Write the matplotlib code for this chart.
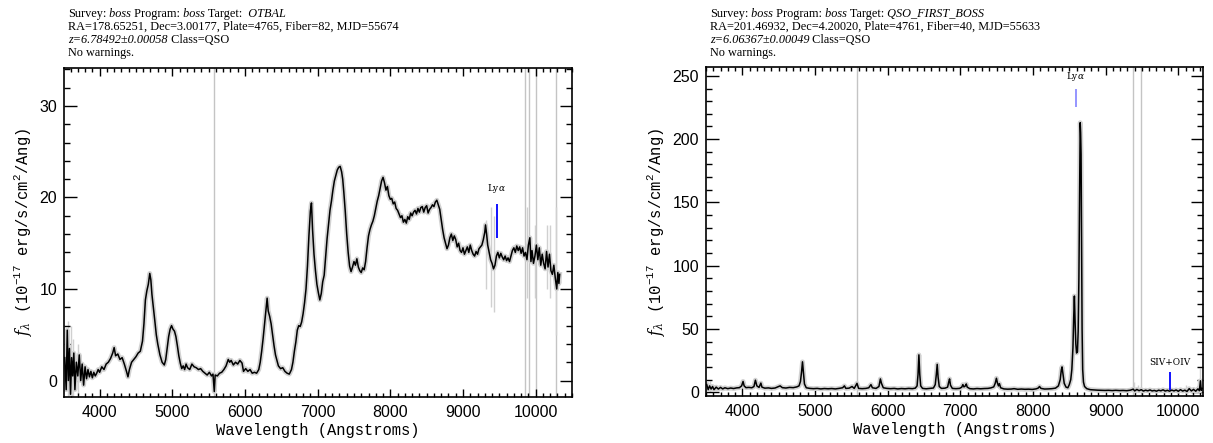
import matplotlib.pyplot as plt
from matplotlib.ticker import MultipleLocator
import numpy as np

plt.rcParams['mathtext.fontset'] = 'custom'
plt.rcParams['mathtext.rm'] = 'Liberation Mono'
plt.rcParams['mathtext.it'] = 'DejaVu Serif:italic'

# ---- left spectrum (z = 6.78, OTBAL) : wavelength, flux
spec_a = np.array([
    (3520, 2.5), (3540, -1.0), (3555, 5.5), (3570, 0.0), (3585, 3.5), (3600, -1.5),
    (3615, 2.5), (3630, 0.5), (3645, 3.0), (3660, -1.0), (3680, 2.0), (3700, 0.5),
    (3720, 2.8), (3740, 0.0), (3760, 1.8), (3780, -0.5), (3800, 1.5), (3820, 0.2),
    (3840, 1.2), (3860, 0.4), (3880, 1.0), (3900, 0.3), (3920, 0.9), (3940, 0.5),
    (3960, 0.8), (3980, 1.2), (4000, 0.9), (4030, 1.5), (4060, 1.2), (4090, 1.8),
    (4120, 2.0), (4150, 2.4), (4180, 3.0), (4200, 3.6), (4220, 2.7), (4250, 2.9),
    (4280, 2.3), (4310, 2.5), (4340, 1.8), (4370, 1.0), (4390, 0.4), (4410, 1.2),
    (4440, 2.0), (4470, 2.3), (4500, 2.6), (4530, 3.0), (4560, 3.2), (4590, 4.3),
    (4610, 6.2), (4630, 8.8), (4650, 9.8), (4670, 10.5), (4690, 11.7), (4705, 11.0),
    (4720, 9.4), (4740, 8.0), (4760, 6.5), (4780, 5.0), (4800, 4.0), (4830, 2.8),
    (4860, 2.0), (4890, 1.7), (4910, 2.3), (4930, 3.6), (4950, 4.8), (4970, 5.6),
    (4990, 6.0), (5010, 5.6), (5030, 5.4), (5050, 4.8), (5070, 3.8), (5090, 2.7),
    (5110, 1.9), (5130, 1.3), (5150, 1.6), (5170, 1.2), (5190, 1.8), (5210, 1.4),
    (5240, 1.2), (5270, 1.8), (5300, 1.5), (5330, 1.4), (5360, 1.2), (5390, 1.3),
    (5420, 1.0), (5450, 0.8), (5480, 0.6), (5510, 0.9), (5540, 0.5), (5560, 0.7),
    (5578, -1.2), (5590, 0.6), (5620, 0.5), (5650, 0.8), (5680, 0.9), (5710, 1.2),
    (5740, 1.6), (5770, 2.3), (5790, 2.0), (5810, 2.2), (5840, 1.7), (5870, 2.0),
    (5900, 1.8), (5930, 2.2), (5960, 1.9), (5980, 1.0), (6010, 1.3), (6040, 1.0),
    (6070, 1.2), (6100, 0.8), (6130, 0.9), (6160, 0.8), (6190, 1.2), (6210, 2.0),
    (6230, 3.2), (6250, 4.6), (6270, 6.2), (6290, 7.8), (6305, 9.0), (6320, 7.6),
    (6340, 7.0), (6360, 6.2), (6380, 5.0), (6400, 3.8), (6420, 2.8), (6440, 2.2),
    (6460, 1.6), (6490, 1.3), (6520, 1.4), (6550, 1.0), (6580, 0.8), (6610, 0.7),
    (6640, 1.2), (6660, 2.0), (6680, 3.2), (6700, 4.2), (6720, 5.5), (6740, 6.0),
    (6760, 5.9), (6780, 6.4), (6800, 7.3), (6820, 8.5), (6840, 10.0), (6860, 12.5),
    (6880, 15.8), (6900, 18.5), (6915, 19.4), (6930, 16.5), (6950, 13.8), (6970, 12.0),
    (6990, 10.5), (7010, 9.6), (7030, 8.8), (7050, 9.5), (7070, 10.8), (7090, 11.5),
    (7110, 13.5), (7130, 15.5), (7150, 17.0), (7170, 18.6), (7190, 19.6), (7210, 20.8),
    (7230, 21.8), (7250, 22.4), (7270, 23.0), (7290, 23.3), (7310, 23.4), (7330, 22.8),
    (7345, 22.0), (7360, 20.6), (7380, 18.5), (7400, 16.0), (7420, 14.0), (7440, 12.5),
    (7460, 11.9), (7480, 12.4), (7500, 13.0), (7520, 12.6), (7540, 13.3), (7560, 12.4),
    (7580, 12.0), (7600, 11.8), (7620, 12.3), (7640, 12.1), (7660, 13.0), (7680, 14.5),
    (7700, 15.8), (7720, 16.5), (7740, 17.0), (7760, 17.4), (7780, 18.0), (7800, 18.8),
    (7820, 19.6), (7840, 20.2), (7860, 21.0), (7880, 21.8), (7900, 22.2), (7920, 21.6),
    (7940, 20.8), (7960, 21.2), (7980, 20.2), (8000, 19.8), (8020, 19.9), (8040, 19.3),
    (8060, 19.5), (8080, 18.8), (8100, 18.6), (8120, 18.2), (8140, 17.8), (8160, 18.0),
    (8180, 17.3), (8200, 17.6), (8220, 17.2), (8240, 17.9), (8260, 17.6), (8280, 18.3),
    (8300, 18.0), (8320, 18.4), (8340, 18.6), (8360, 18.2), (8380, 18.8), (8400, 18.4),
    (8420, 18.9), (8440, 19.0), (8460, 18.4), (8480, 18.9), (8500, 19.1), (8520, 18.3),
    (8540, 18.7), (8560, 18.9), (8580, 19.2), (8600, 19.0), (8620, 19.5), (8640, 19.7),
    (8660, 19.2), (8680, 18.7), (8700, 17.6), (8720, 16.5), (8740, 15.6), (8760, 15.0),
    (8780, 14.4), (8800, 14.8), (8820, 15.6), (8840, 16.0), (8860, 15.3), (8880, 15.8),
    (8900, 15.4), (8920, 14.6), (8940, 15.0), (8960, 14.2), (8980, 14.0), (9000, 14.5),
    (9020, 13.8), (9040, 14.2), (9060, 14.6), (9080, 14.0), (9100, 14.8), (9120, 14.2),
    (9140, 13.8), (9160, 13.6), (9180, 14.1), (9200, 13.8), (9220, 14.4), (9240, 14.6),
    (9260, 14.8), (9280, 15.4), (9300, 16.2), (9310, 17.0), (9325, 16.0), (9340, 14.8),
    (9360, 14.0), (9380, 13.2), (9400, 12.8), (9420, 12.2), (9440, 12.6), (9460, 13.6),
    (9480, 14.0), (9500, 13.4), (9520, 13.9), (9540, 13.5), (9560, 13.2), (9580, 13.6),
    (9600, 13.1), (9620, 13.4), (9640, 13.0), (9660, 13.6), (9680, 14.2), (9700, 14.5),
    (9720, 14.0), (9740, 14.7), (9760, 14.2), (9780, 14.6), (9800, 13.9), (9820, 14.5),
    (9840, 13.6), (9860, 14.0), (9880, 13.2), (9900, 14.8), (9920, 15.6), (9935, 13.0),
    (9950, 14.2), (9970, 12.8), (9990, 13.6), (10010, 14.8), (10030, 13.2), (10050, 14.5),
    (10070, 12.6), (10090, 13.8), (10110, 12.8), (10130, 12.2), (10150, 14.1), (10170, 12.4),
    (10190, 13.8), (10210, 12.0), (10230, 11.6), (10250, 12.6), (10270, 11.2), (10290, 10.0),
    (10305, 11.8), (10320, 10.6), (10330, 11.6),
])

# ---- right spectrum (z = 6.06, QSO_FIRST_BOSS) : wavelength, flux
spec_b = np.array([
    (3510, 6.0), (3530, 2.0), (3550, 5.0), (3570, 2.5), (3590, 4.5), (3610, 2.0),
    (3640, 4.0), (3670, 2.5), (3700, 3.8), (3730, 2.6), (3760, 3.5), (3800, 2.8),
    (3840, 3.3), (3880, 2.9), (3920, 3.4), (3960, 3.6), (3990, 5.0), (4010, 8.5),
    (4025, 5.0), (4050, 3.6), (4090, 3.8), (4130, 3.5), (4160, 4.5), (4180, 9.5),
    (4200, 5.0), (4230, 3.8), (4255, 7.2), (4270, 4.0), (4310, 3.2), (4360, 3.4),
    (4400, 3.0), (4450, 3.3), (4500, 4.5), (4520, 5.0), (4550, 3.6), (4600, 3.3),
    (4650, 3.8), (4700, 3.6), (4750, 4.2), (4780, 5.0), (4800, 8.5), (4815, 16.0),
    (4828, 24.0), (4840, 16.0), (4855, 6.5), (4880, 3.5), (4930, 3.0), (4980, 2.8),
    (5030, 3.0), (5080, 2.6), (5130, 2.9), (5180, 2.7), (5230, 2.9), (5280, 2.6),
    (5330, 3.0), (5380, 3.5), (5405, 5.0), (5425, 3.0), (5470, 3.2), (5510, 4.5),
    (5540, 3.0), (5578, 7.0), (5600, 3.0), (5650, 2.8), (5700, 3.0), (5740, 3.5),
    (5770, 6.0), (5790, 3.5), (5840, 3.0), (5880, 4.5), (5900, 10.5), (5915, 7.0),
    (5940, 3.5), (5990, 3.0), (6040, 2.8), (6090, 3.0), (6140, 2.6), (6190, 2.9),
    (6240, 2.7), (6290, 3.0), (6340, 2.8), (6380, 3.2), (6405, 5.0), (6418, 14.0),
    (6430, 29.5), (6442, 14.0), (6455, 5.0), (6480, 3.0), (6530, 2.7), (6580, 3.0),
    (6630, 3.3), (6655, 6.0), (6670, 14.0), (6682, 22.0), (6694, 12.0), (6710, 4.5),
    (6740, 3.0), (6790, 3.2), (6825, 4.0), (6840, 8.0), (6852, 10.5), (6865, 5.5),
    (6890, 3.0), (6940, 2.8), (6990, 3.0), (7020, 4.0), (7035, 6.0), (7050, 4.2),
    (7070, 5.0), (7082, 6.5), (7095, 4.0), (7130, 2.8), (7180, 2.6), (7230, 2.9),
    (7280, 2.7), (7330, 2.9), (7380, 3.0), (7420, 3.4), (7460, 4.2), (7480, 7.0),
    (7497, 11.0), (7510, 7.5), (7525, 5.0), (7538, 6.8), (7555, 3.5), (7600, 2.6),
    (7650, 2.4), (7700, 2.5), (7740, 2.8), (7790, 2.3), (7840, 2.5), (7890, 2.3),
    (7940, 2.4), (7990, 2.2), (8040, 2.6), (8070, 3.2), (8090, 4.5), (8110, 3.0),
    (8160, 2.5), (8210, 2.6), (8260, 2.8), (8310, 3.2), (8350, 5.0), (8375, 10.0),
    (8390, 17.5), (8400, 20.0), (8412, 15.0), (8430, 7.0), (8455, 4.0), (8480, 3.5),
    (8500, 6.0), (8520, 10.0), (8535, 18.0), (8550, 35.0), (8560, 58.0), (8570, 76.0),
    (8580, 55.0), (8590, 38.0), (8600, 31.0), (8612, 32.0), (8622, 48.0), (8632, 90.0),
    (8642, 160.0), (8650, 213.0), (8656, 205.0), (8662, 188.0), (8666, 150.0), (8670, 100.0),
    (8676, 50.0), (8684, 18.0), (8695, 8.0), (8710, 4.5), (8740, 2.8), (8790, 2.0),
    (8840, 1.8), (8890, 1.6), (8940, 1.5), (8990, 1.4), (9040, 1.5), (9090, 1.3),
    (9140, 1.5), (9190, 1.3), (9240, 1.4), (9290, 1.2), (9340, 1.6), (9380, 2.4),
    (9400, 1.0), (9430, 2.2), (9460, 1.2), (9490, 2.0), (9520, 0.9), (9550, 1.6),
    (9580, 1.1), (9610, 1.8), (9640, 1.0), (9670, 1.4), (9700, 0.8), (9730, 1.6),
    (9760, 1.1), (9790, 1.9), (9820, 0.9), (9850, 1.5), (9880, 0.8), (9910, 1.7),
    (9940, 1.0), (9970, 1.8), (10000, 0.7), (10030, 2.0), (10060, 0.9), (10090, 1.6),
    (10120, 0.6), (10150, 2.8), (10180, 1.0), (10210, 2.2), (10240, 0.8), (10270, 2.6),
    (10290, 1.2), (10305, 9.0), (10315, 1.5), (10330, 3.0),
])

# noisy error spikes (wavelength, low, high)
spikes_a = [(3560, -2, 6.5), (3600, -2, 6.0), (3640, -2, 4.5), (3700, -1.5, 4.0),
            (9310, 10, 17.5), (9380, 8, 19), (9420, 7.5, 18), (9880, 9, 19),
            (9990, 9, 17), (10150, 10, 17), (10200, 9, 17), (10280, 5, 19)]
spikes_b = [(3560, 0, 9), (9390, 0, 8), (9450, 0, 6), (10110, 0, 6), (10300, 0, 19)]

# masked wavelengths (grey verticals)
masks_a = [5578, 9860, 9910, 10000, 10280]
masks_b = [5578, 9380, 9480]

# line markers: (label, wavelength, y0, y1, label y, colour)
marks_a = [("Ly$\\alpha$", 9464, 15.6, 19.3, 20.3, "#0000ff")]
marks_b = [("Ly$\\alpha$", 8587, 225, 240, 244, "#8c8cff"),
           ("SIV+OIV", 9890, 1.5, 16, 20, "#0000ff")]

# header lines as (text, style) pieces
header_a = [
    [("Survey:", "normal"), (" boss", "italic"), (" Program:", "normal"),
     (" boss", "italic"), (" Target:", "normal"), ("  OTBAL", "italic")],
    [("RA=178.65251, Dec=3.00177, Plate=4765, Fiber=82, MJD=55674", "normal")],
    [("z=6.78492\u00b10.00058", "italic"), (" Class=QSO", "normal")],
    [("No warnings.", "normal")],
]
header_b = [
    [("Survey:", "normal"), (" boss", "italic"), (" Program:", "normal"),
     (" boss", "italic"), (" Target:", "normal"), (" QSO_FIRST_BOSS", "italic")],
    [("RA=201.46932, Dec=4.20020, Plate=4761, Fiber=40, MJD=55633", "normal")],
    [("z=6.06367\u00b10.00049", "italic"), (" Class=QSO", "normal")],
    [("No warnings.", "normal")],
]

W, H = 1213, 443
fig = plt.figure(figsize=(W / 100, H / 100), dpi=100)
HFONT = dict(fontsize=8.8, family="Liberation Serif")


def panel(rect, spec, spikes, masks, marks, header, xlim, ylim, ymaj, ymin):
    ax = fig.add_axes([rect[0] / W, 1 - rect[3] / H, (rect[2] - rect[0]) / W,
                       (rect[3] - rect[1]) / H])
    for m in masks:
        ax.axvline(m, color="#c4c4c4", lw=1.0, zorder=1)
    for w, lo, hi in spikes:
        ax.vlines(w, lo, hi, color="#d0d0d0", lw=1.0, zorder=1)
    ax.plot(spec[:, 0], spec[:, 1], color="#d2d2d2", lw=3.5, zorder=2)
    ax.plot(spec[:, 0], spec[:, 1], color="black", lw=1.1, zorder=3)
    for lab, w, y0, y1, yl, c in marks:
        ax.vlines(w, y0, y1, color=c, lw=1.3, zorder=4)
        ax.text(w, yl, lab, ha="center", va="bottom", fontsize=6.5,
                family="DejaVu Serif", zorder=4)
    ax.set_xlim(*xlim)
    ax.set_ylim(*ylim)
    ax.xaxis.set_major_locator(MultipleLocator(1000))
    ax.xaxis.set_minor_locator(MultipleLocator(100))
    ax.yaxis.set_major_locator(MultipleLocator(ymaj))
    ax.yaxis.set_minor_locator(MultipleLocator(ymin))
    ax.tick_params(which="both", direction="in", top=True, right=True, width=1.0,
                   labelsize=11.5)
    ax.tick_params(axis="x", which="major", length=6, pad=6)
    ax.tick_params(axis="x", which="minor", length=3)
    ax.tick_params(axis="y", which="major", length=9, pad=5)
    ax.tick_params(axis="y", which="minor", length=4.5)
    for t in ax.get_xticklabels() + ax.get_yticklabels():
        t.set_family("Liberation Sans")
    for s in ax.spines.values():
        s.set_linewidth(1.2)
    ax.set_xlabel("Wavelength (Angstroms)", family="Liberation Mono", fontsize=11.2,
                  labelpad=2)
    ax.set_ylabel(r"$f_\lambda$ (10$^{-17}$ erg/s/cm$^2$/Ang)", family="Liberation Mono",
                  fontsize=11.2, labelpad=4)
    # header: chain the pieces of each line one after the other
    for i, pieces in enumerate(header):
        prev = None
        for txt, style in pieces:
            if prev is None:
                prev = fig.text((rect[0] + 4) / W, 1 - (20 + 13 * i) / H, txt,
                                style=style, va="bottom", ha="left", **HFONT)
            else:
                prev = ax.annotate(txt, xy=(1, 0), xycoords=prev, va="bottom",
                                   ha="left", style=style, annotation_clip=False,
                                   **HFONT)
    return ax


panel((64, 67.5, 572, 397), spec_a, spikes_a, masks_a, marks_a, header_a,
      (3510, 10500), (-1.8, 34.2), 10, 2)
panel((706, 67, 1203, 396), spec_b, spikes_b, masks_b, marks_b, header_b,
      (3500, 10340), (-3, 257), 50, 10)

fig.savefig("out.png", dpi=100)
